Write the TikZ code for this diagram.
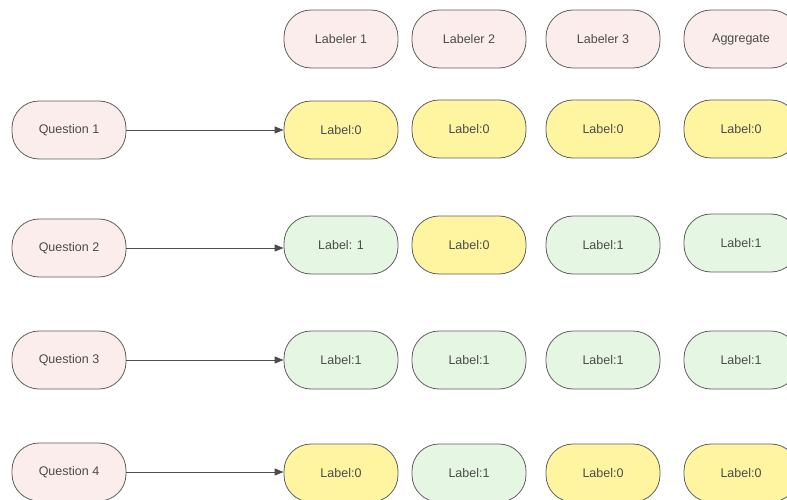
\documentclass[tikz,border=0pt]{standalone}
\usepackage{fontspec}
\setmainfont{Liberation Sans}
\usetikzlibrary{arrows.meta}
\definecolor{pinkf}{RGB}{251,237,235}
\definecolor{yelf}{RGB}{255,244,160}
\definecolor{grnf}{RGB}{229,247,226}
\definecolor{edge}{RGB}{95,95,95}
\definecolor{txt}{RGB}{75,75,75}
\tikzset{
  pill/.style={draw=edge, line width=0.8pt, rounded corners=27pt, minimum width=114pt, minimum height=58pt, inner sep=0pt, text=txt, font=\fontsize{12.5}{15}\selectfont},
  pk/.style={pill, fill=pinkf},
  yl/.style={pill, fill=yelf},
  gr/.style={pill, fill=grnf},
  conn/.style={draw=edge!80!black, line width=0.9pt, -{Triangle[length=9pt,width=7pt]}}
}
\begin{document}
\begin{tikzpicture}[x=1pt,y=-1pt]
\useasboundingbox (0,0) rectangle (787,500);
% header
\node[pk] (h1) at (341,39) {Labeler 1};
\node[pk] (h2) at (469,39) {Labeler 2};
\node[pk] (h3) at (603,39) {Labeler 3};
\node[pk] (h4) at (741,39) {Aggregate};
% questions
\node[pk] (q1) at (69,130) {Question 1};
\node[pk] (q2) at (69,248) {Question 2};
\node[pk] (q3) at (69,360) {Question 3};
\node[pk] (q4) at (69,472) {Question 4};
% row 1
\node[yl] (a1) at (341,130) {Label:0};
\node[yl] (b1) at (469,129) {Label:0};
\node[yl] (c1) at (603,129) {Label:0};
\node[yl] (d1) at (741,129) {Label:0};
% row 2
\node[gr] (a2) at (341,245) {Label: 1};
\node[yl] (b2) at (469,245) {Label:0};
\node[gr] (c2) at (603,245) {Label:1};
\node[gr] (d2) at (741,243) {Label:1};
% row 3
\node[gr] (a3) at (341,360) {Label:1};
\node[gr] (b3) at (469,360) {Label:1};
\node[gr] (c3) at (603,360) {Label:1};
\node[gr] (d3) at (741,360) {Label:1};
% row 4
\node[yl] (a4) at (341,473) {Label:0};
\node[gr] (b4) at (469,473) {Label:1};
\node[yl] (c4) at (603,473) {Label:0};
\node[yl] (d4) at (741,473) {Label:0};
% connectors
\draw[conn] (q1.east) -- (q1.east -| a1.west);
\draw[conn] (q2.east) -- (q2.east -| a2.west);
\draw[conn] (q3.east) -- (q3.east -| a3.west);
\draw[conn] (q4.east) -- (q4.east -| a4.west);
\end{tikzpicture}
\end{document}
